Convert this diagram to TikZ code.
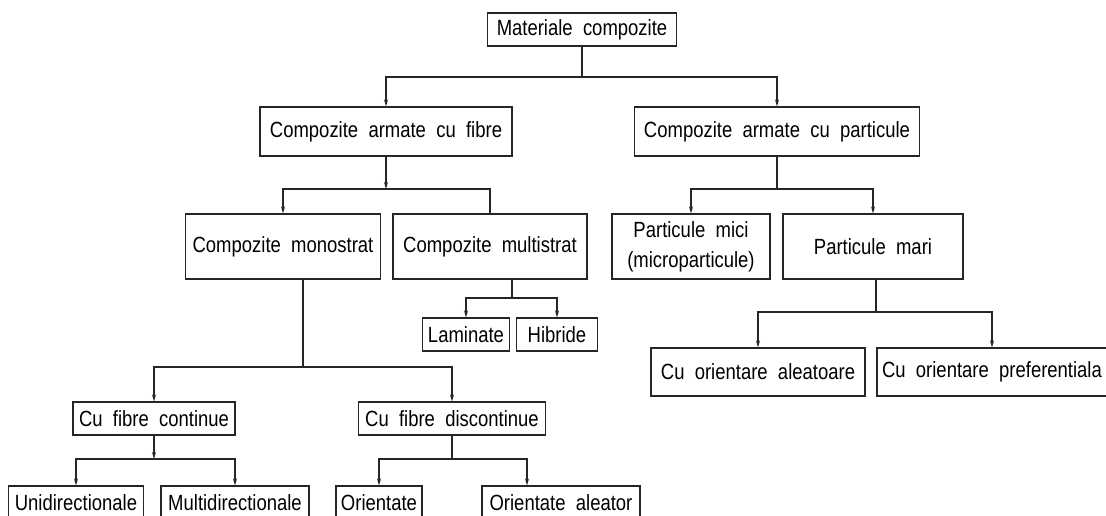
\documentclass[tikz,border=0pt]{standalone}
\usepackage{fontspec}
\setmainfont{Liberation Sans}[FakeStretch=0.84, WordSpace=2]
\usepackage{tikz}
\usetikzlibrary{arrows.meta}

\begin{document}
\begin{tikzpicture}[
  x=1pt, y=-1pt,
  box/.style={
    rectangle, draw=black!85, line width=1.1pt,
    inner sep=0pt, align=center,
    font=\fontsize{22}{30}\selectfont
  },
  link/.style={draw=black!85, line width=1.1pt},
  tip/.style={link, -{Stealth[length=7pt, width=4pt, fill=black]}}
]
\clip (0,0) rectangle (1106,516);

% Level 0 and 1
\node[box, minimum width=189, minimum height=33] (root) at (582, 29.5) {Materiale compozite};
\node[box, minimum width=252, minimum height=49] (fibre) at (386, 131.5) {Compozite armate cu fibre};
\node[box, minimum width=285, minimum height=49] (partic) at (777, 131.5) {Compozite armate cu particule};

% Level 2
\node[box, minimum width=195, minimum height=65] (mono) at (283, 246.5) {Compozite monostrat};
\node[box, minimum width=194, minimum height=65] (multi) at (490, 246.5) {Compozite multistrat};
\node[box, minimum width=158, minimum height=65] (mici) at (691, 246.5) {Particule mici\\(microparticule)};
\node[box, minimum width=180, minimum height=65] (mari) at (873, 246.5) {Particule mari};

% Level 3
\node[box, minimum width=87, minimum height=33] (lamin) at (466, 334.5) {Laminate};
\node[box, minimum width=81, minimum height=33] (hibr) at (557, 334.5) {Hibride};
\node[box, minimum width=214, minimum height=48] (aleat) at (758, 372) {Cu orientare aleatoare};
\node[box, minimum width=230, minimum height=48] (pref) at (992, 372) {Cu orientare preferentiala};
\node[box, minimum width=162, minimum height=33] (cont) at (154, 418.5) {Cu fibre continue};
\node[box, minimum width=187, minimum height=33] (discont) at (452, 418.5) {Cu fibre discontinue};

% Level 4 (cut at the bottom edge)
\node[box, minimum width=135, minimum height=33] (unidir) at (76, 502.5) {Unidirectionale};
\node[box, minimum width=148, minimum height=33] (multidir) at (235, 502.5) {Multidirectionale};
\node[box, minimum width=86, minimum height=33] (orient) at (379, 502.5) {Orientate};
\node[box, minimum width=158, minimum height=33] (oriental) at (561, 502.5) {Orientate aleator};

% Junctions
\coordinate (j0) at (582, 77);
\coordinate (jf) at (386, 189);
\coordinate (jp) at (777, 189);
\coordinate (jm) at (303, 367);
\coordinate (jl) at (512, 298);
\coordinate (jr) at (876, 312);
\coordinate (jc) at (154, 459);
\coordinate (jd) at (452, 459);

% Connectors
\draw[link] (root.south) -- (j0);
\draw[tip] (j0) -| (fibre.north);
\draw[tip] (j0) -| (partic.north);

\draw[tip] (fibre.south) -- (jf);
\draw[tip] (jf) -| (mono.north);
\draw[link] (jf) -| (multi.north);

\draw[link] (partic.south) -- (jp);
\draw[tip] (jp) -| (mici.north);
\draw[tip] (jp) -| (mari.north);

\draw[link] (mono.south -| jm) -- (jm);
\draw[tip] (jm) -| (cont.north);
\draw[tip] (jm) -| (discont.north);

\draw[link] (multi.south -| jl) -- (jl);
\draw[tip] (jl) -| (lamin.north);
\draw[tip] (jl) -| (hibr.north);

\draw[link] (mari.south -| jr) -- (jr);
\draw[tip] (jr) -| (aleat.north);
\draw[tip] (jr) -| (pref.north);

\draw[tip] (cont.south) -- (jc);
\draw[tip] (jc) -| (unidir.north);
\draw[tip] (jc) -| (multidir.north);

\draw[link] (discont.south) -- (jd);
\draw[tip] (jd) -| (orient.north);
\draw[tip] (jd) -| ([xshift=-34pt]oriental.north);

\end{tikzpicture}
\end{document}
